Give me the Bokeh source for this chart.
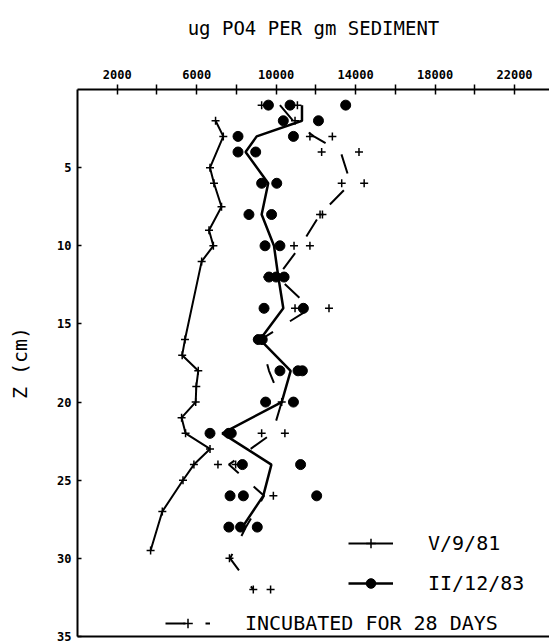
from bokeh.plotting import figure
from bokeh.models import Range1d, FixedTicker, LinearAxis, Legend, LegendItem
from bokeh.embed import file_html
from bokeh.resources import INLINE

# ---- data (ug PO4 per gm sediment vs depth Z in cm) ----
v981_depth = [2, 3, 5, 6, 7.5, 9, 10, 11, 16, 17, 18, 19, 20, 21, 22, 23, 24, 25, 27, 29.5]
v981_value = [6950, 7340, 6670, 6870, 7250, 6620, 6840, 6250, 5410, 5270, 6080, 5980,
              5950, 5240, 5440, 6670, 5860, 5310, 4270, 3680]

ii1283_line_depth = [1, 2, 3, 4, 6, 8, 10, 12, 14, 16, 18, 20, 22, 24, 26, 28]
ii1283_line_value = [11300, 11300, 9020, 8460, 9600, 9270, 9890, 10110, 10360, 9190,
                     10730, 10280, 7290, 9760, 9350, 8300]

ii1283_pts_depth = [1, 1, 1, 2, 2, 3, 3, 4, 4, 6, 6, 8, 8, 10, 10, 12, 12, 12, 14, 14,
                    16, 16, 18, 18, 18, 20, 20, 22, 22, 22, 24, 24, 26, 26, 26, 28, 28, 28]
ii1283_pts_value = [9610, 10700, 13500, 10360, 12130, 8080, 10870, 8080, 8970, 9270, 10030,
                    8630, 9770, 9440, 10190, 9640, 10000, 10400, 9390, 11370,
                    9100, 9300, 10190, 11100, 11320, 9470, 10870, 6670, 7620, 7740,
                    8300, 11230, 7680, 8350, 12040, 7620, 8210, 9050]

inc_line_depth = [1, 2, 3, 4, 6, 8, 10, 12, 14, 16, 18, 20, 22, 24, 26, 28, 30, 32]
inc_line_value = [10190, 10850, 11900, 13250, 13750, 12210, 11230, 10060, 11740, 9220,
                  9640, 10280, 9810, 7620, 9390, 8480, 7680, 8850]

inc_pts_depth = [1, 1, 2, 3, 3, 4, 4, 6, 6, 8, 8, 10, 10, 12, 14, 14, 16, 20, 22, 22,
                 24, 24, 26, 30, 32, 32]
inc_pts_value = [9270, 11070, 10950, 11700, 12830, 12290, 14170, 13300, 14430, 12210, 12330,
                 10900, 11700, 9550, 10950, 12660, 9050, 10280, 9270, 10440,
                 7070, 7960, 9860, 7650, 8850, 9720]

x_ticks = list(range(2000, 24000, 2000))
x_labels = {t: (str(t) if (t - 2000) % 4000 == 0 else "") for t in x_ticks}
y_ticks = [5, 10, 15, 20, 25, 30, 35]

MONO = "DejaVu Sans Mono"

p = figure(width=549, height=643, output_backend="svg", toolbar_location=None,
           x_range=Range1d(0, 23760), y_range=Range1d(35, 0),
           x_axis_location="above",
           min_border_left=77, min_border_top=89, min_border_right=0, min_border_bottom=7)
p.grid.visible = False
p.outline_line_color = None
p.background_fill_color = "white"
p.border_fill_color = "white"

xa = p.xaxis[0]
xa.ticker = FixedTicker(ticks=x_ticks)
xa.major_label_overrides = x_labels
xa.minor_tick_line_color = None
xa.major_tick_in = 5
xa.major_tick_out = 5
xa.major_tick_line_width = 1.5
xa.axis_line_width = 2
xa.major_label_standoff = 6
xa.major_label_text_font = MONO
xa.major_label_text_font_style = "bold"
xa.major_label_text_font_size = "12px"
xa.major_label_text_color = "black"
xa.axis_label = "ug PO4 PER gm SEDIMENT"
xa.axis_label_text_font = MONO
xa.axis_label_text_font_style = "normal"
xa.axis_label_text_font_size = "19px"
xa.axis_label_text_color = "black"
xa.axis_label_standoff = 28

ya = p.yaxis[0]
ya.ticker = FixedTicker(ticks=y_ticks)
ya.minor_tick_line_color = None
ya.major_tick_in = 4
ya.major_tick_out = 0
ya.major_tick_line_width = 1.5
ya.axis_line_width = 2
ya.major_label_standoff = 6
ya.major_label_text_font = MONO
ya.major_label_text_font_style = "bold"
ya.major_label_text_font_size = "12px"
ya.major_label_text_color = "black"
ya.axis_label = "Z (cm)"
ya.axis_label_text_font = MONO
ya.axis_label_text_font_style = "normal"
ya.axis_label_text_font_size = "20px"
ya.axis_label_text_color = "black"
ya.axis_label_standoff = 22

bottom = LinearAxis(ticker=FixedTicker(ticks=[]), axis_line_width=2,
                    major_tick_line_color=None, minor_tick_line_color=None,
                    major_label_text_font_size="0px")
p.add_layout(bottom, "below")

# ---- series ----
vl = p.line(v981_value, v981_depth, line_color="black", line_width=2)
vm = p.scatter(v981_value, v981_depth, marker="cross", size=8, line_color="black", line_width=1.5)

il = p.line(ii1283_line_value, ii1283_line_depth, line_color="black", line_width=2.5)
im = p.scatter(ii1283_pts_value, ii1283_pts_depth, marker="circle", size=10,
               fill_color="black", line_color="black")

cl = p.line(inc_line_value, inc_line_depth, line_color="black", line_width=2, line_dash="20 20")
cm = p.scatter(inc_pts_value, inc_pts_depth, marker="cross", size=8, line_color="black", line_width=1.5)

common = dict(padding=0, margin=0, spacing=16, glyph_width=45, glyph_height=24,
              label_height=24, label_standoff=35, border_line_color=None,
              background_fill_alpha=0, label_text_font=MONO, label_text_font_size="20px",
              label_text_color="black")

leg1 = Legend(items=[LegendItem(label="V/9/81", renderers=[vl, vm]),
                     LegendItem(label="II/12/83", renderers=[il, im])],
              location=(271, 41), **common)
leg2 = Legend(items=[LegendItem(label="INCUBATED FOR 28 DAYS", renderers=[cl, cm])],
              location=(88, 1), **common)
p.add_layout(leg1)
p.add_layout(leg2)

open("out.html", "w").write(file_html(p, INLINE))
